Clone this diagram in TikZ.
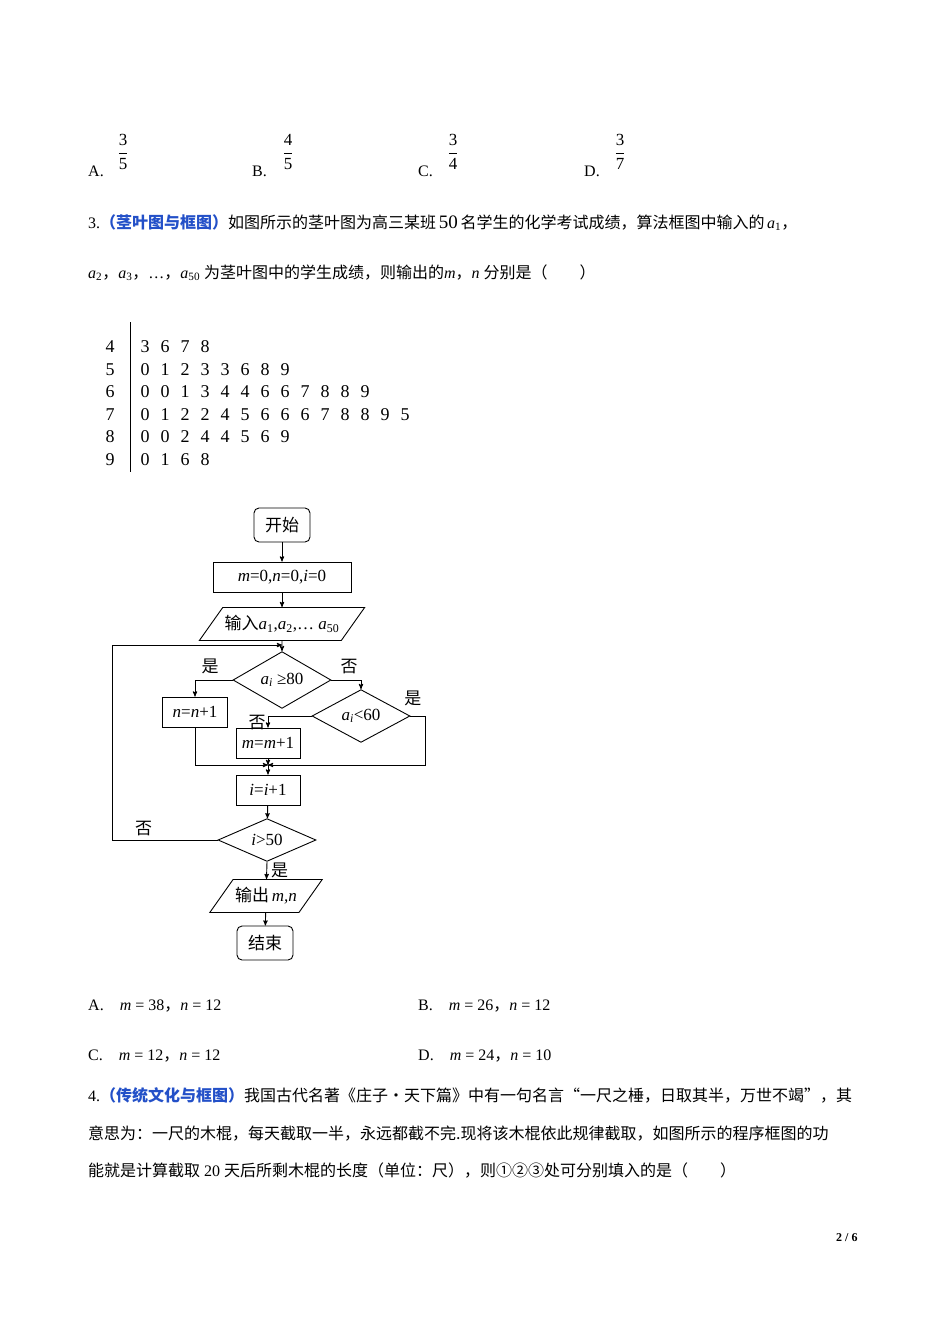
\documentclass[tikz,border=0pt]{standalone}
\usepackage{amsmath}
\usepackage{fontspec}
\setmainfont{Liberation Serif}
\newfontfamily\cjk{Noto Sans CJK SC}
\usetikzlibrary{arrows}
\usetikzlibrary{calc}
\usetikzlibrary{shapes.geometric}
\definecolor{qblue}{RGB}{35,80,200}
\newcommand{\txt}{\fontsize{16}{19}\selectfont}
\newcommand{\qlabel}[1]{{\cjk\bfseries\color{qblue}#1}}
\newcommand{\cc}{{\cjk ，}}
\newcommand{\vi}[1]{\textit{#1}}
\newcommand{\va}[1]{\textit{a}\textsubscript{#1}}
\newcommand{\fr}[2]{$\dfrac{\text{#1}}{\text{#2}}$}
\begin{document}
\begin{tikzpicture}[x=1pt,y=-1pt,>=stealth',
  line/.style={draw,line width=0.9pt},
  body/.style={anchor=base west,inner sep=0pt,font=\txt},
  frac/.style={anchor=center,inner sep=0pt,font=\fontsize{17}{18}\selectfont},
  digit/.style={anchor=base,inner sep=0pt,font=\fontsize{18}{18}\selectfont},
  term/.style={draw,line width=0.9pt,rounded corners=5pt,minimum width=56pt,minimum height=34pt,font=\fontsize{17}{18}\selectfont\cjk},
  procbox/.style={draw,line width=0.9pt,minimum height=30pt,inner sep=2pt,font=\fontsize{17}{18}\selectfont},
  decide/.style={draw,line width=0.9pt,diamond,inner sep=0pt,minimum width=98pt,minimum height=39pt,font=\fontsize{17}{18}\selectfont},
  io/.style={draw,line width=0.9pt,trapezium,trapezium left angle=42,trapezium right angle=138,trapezium stretches body,minimum height=33pt,inner sep=2pt,font=\fontsize{17}{18}\selectfont},
  yn/.style={inner sep=0pt,font=\fontsize{17}{18}\selectfont\cjk}]
\useasboundingbox[fill=white] (0,0) rectangle (950,1344);

% answer options of question 2
\node[body] (oa) at (88,176) {A.};
\node[frac] (fa) at (123,152) {\fr{3}{5}};
\node[body] (ob) at (252,176) {B.};
\node[frac] (fb) at (288,152) {\fr{4}{5}};
\node[body] (oc) at (418,176) {C.};
\node[frac] (fc) at (453,152) {\fr{3}{4}};
\node[body] (od) at (584,176) {D.};
\node[frac] (fd) at (620,152) {\fr{3}{7}};

% question 3
\node[body] (q3a) at (88,228) {3.\qlabel{（茎叶图与框图）}{\cjk 如图所示的茎叶图为高三某班}\,{\fontsize{19}{19}\selectfont 50}\,{\cjk 名学生的化学考试成绩，算法框图中输入的}\,\va{1}\cc};
\node[body] (q3b) at (88,278) {\va{2}\cc\va{3}\cc…\cc\va{50} {\cjk 为茎叶图中的学生成绩，则输出的}\vi{m}\cc\vi{n} {\cjk 分别是（\quad\quad）}};

% stem and leaf
\draw[line width=1pt] (130,322) coordinate (bartop) -- (130,472) coordinate (barbot);
\foreach \stem/\leaves [count=\r] in {4/{3,6,7,8},5/{0,1,2,3,3,6,8,9},6/{0,0,1,3,4,4,6,6,7,8,8,9},7/{0,1,2,2,4,5,6,6,6,7,8,8,9,5},8/{0,0,2,4,4,5,6,9},9/{0,1,6,8}}{
  \node[digit] (s\r) at (110,{330+22.5*\r}) {\stem};
  \foreach \l [count=\c] in \leaves
    \node[digit] (l\r-\c) at ({125+20*\c},{330+22.5*\r}) {\l};
}

% flowchart
\node[term] (start) at (282,525) {开始};
\node[procbox,minimum width=138pt] (init) at (282,577) {\vi{m}=0,\vi{n}=0,\vi{i}=0};
\node[io,minimum width=120pt] (input) at (282,624) {{\cjk 输入}\va{1},\va{2},… \va{50}};
\node[decide] (d1) at (282,680) {\va{\vi{i}} ≥80};
\node[procbox,minimum width=65pt] (nbox) at (195,712) {\vi{n}=\vi{n}+1};
\node[decide] (d2) at (361,716) {\va{\vi{i}}<60};
\node[procbox,minimum width=64pt] (mbox) at (268,743) {\vi{m}=\vi{m}+1};
\node[procbox,minimum width=64pt] (ibox) at (268,790) {\vi{i}=\vi{i}+1};
\node[decide] (d3) at (267,840) {\vi{i}>50};
\node[io,minimum width=80pt] (output) at (266,896) {{\cjk 输出}\,\vi{m,n}};
\node[term] (stop) at (265,943) {结束};

\coordinate (loopc) at (282,645);
\coordinate (join) at (268,765);

\draw[line,->] (start) -- (init);
\draw[line,->] (init) -- (input);
\draw[line,->] (input.south) -- (d1);
\draw[line,->] (d1.west) -| node[yn,pos=0.3,above=6pt] {是} (nbox.north);
\draw[line,->] (d1.east) -| node[yn,pos=0.3,above=6pt] {否} (d2.north);
\draw[line,->] (d2.west) -| node[yn,pos=0.8,left=2pt] {否} (mbox.north);
\draw[line,->] (d2.east) -| node[yn,pos=0.08,above=10pt] {是} (425,765) -- (join);
\draw[line,->] (nbox.south) |- (join);
\draw[line,->] (mbox) -- (join);
\draw[line,->] (join) -- (ibox);
\draw[line,->] (ibox) -- (d3);
\draw[line,->] (d3.west) -| node[yn,pos=0.35,above=4pt] {否} (112,645) -- (loopc);
\draw[line,->] (d3.south) -- node[yn,right=4pt] {是} (output);
\draw[line,->] (output) -- (stop);

% answer options of question 3
\node[body] (a3a) at (88,1010) {A.\quad \vi{m} = 38\cc\vi{n} = 12};
\node[body] (a3b) at (418,1010) {B.\quad \vi{m} = 26\cc\vi{n} = 12};
\node[body] (a3c) at (88,1060) {C.\quad \vi{m} = 12\cc\vi{n} = 12};
\node[body] (a3d) at (418,1060) {D.\quad \vi{m} = 24\cc\vi{n} = 10};

% question 4
\node[body] (q4a) at (88,1101) {4.\qlabel{（传统文化与框图）}{\cjk 我国古代名著《庄子·天下篇》中有一句名言“一尺之棰，日取其半，万世不竭”，其}};
\node[body] (q4b) at (88,1139) {\cjk 意思为：一尺的木棍，每天截取一半，永远都截不完.现将该木棍依此规律截取，如图所示的程序框图的功};
\node[body] (q4c) at (88,1176) {{\cjk 能就是计算截取} 20 {\cjk 天后所剩木棍的长度（单位：尺），则①②③处可分别填入的是（\quad\quad）}};

\node[body,font=\fontsize{12}{12}\selectfont\bfseries] (page) at (836,1241) {2 / 6};
\end{tikzpicture}
\end{document}
